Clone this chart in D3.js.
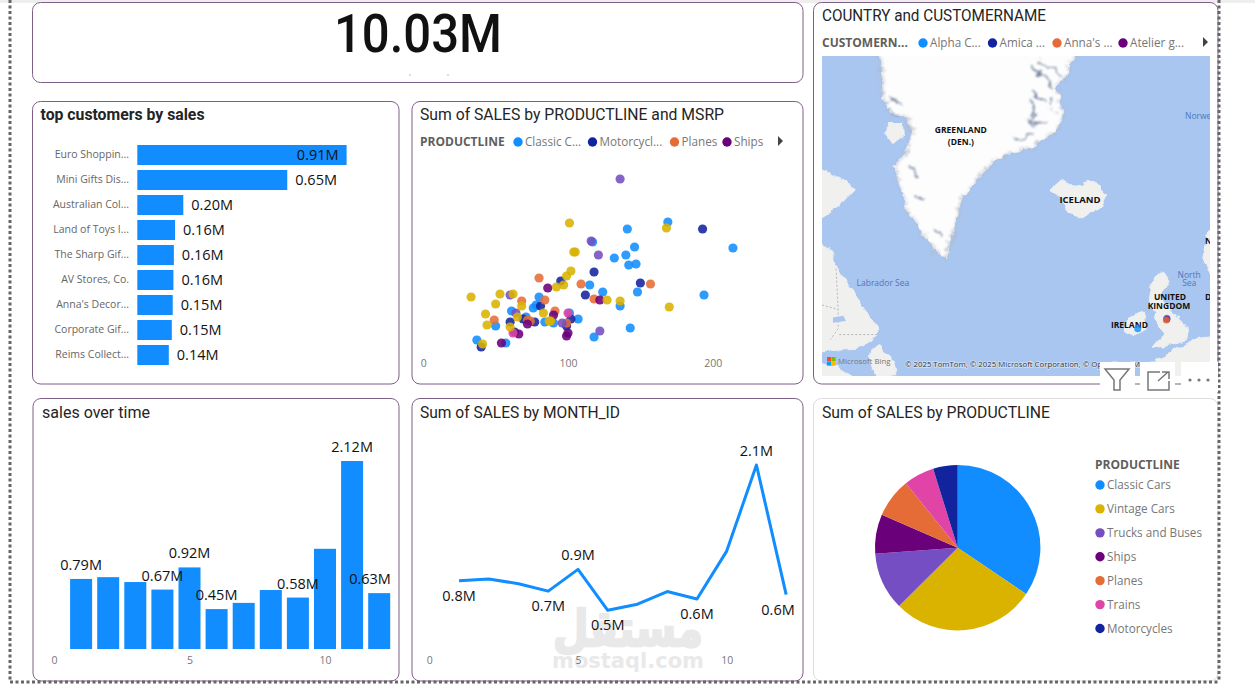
<!DOCTYPE html>
<html>
<head>
<meta charset="utf-8">
<title>Sales dashboard</title>
<script src="https://d3js.org/d3.v7.min.js"></script>
<style>
  html, body { margin: 0; padding: 0; background: white; overflow: hidden; }
  svg { display: block; }
  text { font-family: 'Open Sans', sans-serif; }
  .title { font-family: Roboto, sans-serif; fill: #252423; font-size: 16px; }
  .tick text { font-family: 'Open Sans', sans-serif; font-size: 10.5px; fill: #777; }
  .cat .tick text { font-size: 10.5px; fill: #666; }
  .dlabel { font-size: 14.5px; fill: #111; text-anchor: middle; }
  .legtitle { font-size: 12px; font-weight: bold; fill: #605e5c; }
  .legitem { font-size: 11.7px; fill: #777; }
  .maplabel { font-size: 8.5px; font-weight: bold; fill: #111; text-anchor: middle; }
  .sealabel { font-size: 8.5px; fill: #4c78bd; text-anchor: middle; }
</style>
</head>
<body>
<div id="chart"></div>
<script>
const totalSales = "10.03M";

// top customers
const customers = ["Euro Shoppin...", "Mini Gifts Dis...", "Australian Col...", "Land of Toys I...", "The Sharp Gif...", "AV Stores, Co.", "Anna's Decor...", "Corporate Gif...", "Reims Collect..."];
const customerSales = [0.91, 0.652, 0.20, 0.164, 0.159, 0.157, 0.154, 0.15, 0.137];

// sales by month, the two bottom charts share these
const months = [1, 2, 3, 4, 5, 6, 7, 8, 9, 10, 11, 12];
const monthSales = [0.79, 0.81, 0.755, 0.67, 0.92, 0.45, 0.52, 0.665, 0.58, 1.13, 2.12, 0.63];
const labelledMonths = [1, 4, 5, 6, 9, 11, 12];
const lineLabelsAbove = [5, 11];

// product lines
const productLines = ["Classic Cars", "Vintage Cars", "Trucks and Buses", "Ships", "Planes", "Trains", "Motorcycles"];
const productSales = [3.45, 2.81, 1.13, 0.77, 0.77, 0.60, 0.48];
const productColors = ["#118dff", "#d9b300", "#744ec2", "#6b007b", "#e66c37", "#e044a7", "#12239e"];

// scatter points: [MSRP, sales in thousands]
const classicPts = [[169,138],[141,131],[214,112],[146,113],[140,105],[132,102],[147,96],[142,95],[117,118],[115,75],[124,68],[148,68],[194,65],[136,54],[80,63],[76,52],[78,55],[61,49],[71,43],[50,34],[84,38],[90,37],[101,47],[107,41],[143,32],[118,23],[37,20],[57,17]];
const motorcyclePts = [[193,131],[118,88],[150,77],[112,65],[95,79],[81,54],[60,38],[69,41],[77,38],[102,41],[99,34],[63,28],[40,13]];
const planePts = [[80,82],[109,76],[157,76],[118,61],[84,60],[68,59],[49,40],[91,49],[74,39],[72,40],[99,37]];
const shipPts = [[86,72],[122,60],[90,45],[72,36],[100,27],[99,24],[66,26],[54,17]];
const trainPts = [[62,27],[100,47]];
const truckPts = [[136,181],[116,119],[121,105],[60,65],[64,47],[96,37],[122,29]];
const vintagePts = [[101,137],[168,132],[104,108],[105,108],[102,89],[99,84],[97,75],[92,73],[62,66],[53,66],[33,63],[50,56],[68,54],[43,46],[44,35],[65,43],[83,47],[60,33],[87,39],[88,39],[127,60],[136,59],[170,53],[41,16]];

// map outlines, lon/lat
const greenland = [[-58,76],[-57.5,74.4],[-56.9,73],[-57.1,72.1],[-55.5,71.2],[-52,70.8],[-51.3,69.9],[-52.3,68.7],[-55,67.6],[-53.6,66.3],[-52.3,64],[-49.8,62.5],[-46.2,60.2],[-44.6,59.8],[-43.7,62.2],[-41.8,65],[-38.8,66.6],[-33.8,68.5],[-32.5,68.4],[-27.3,69.1],[-23.2,70.3],[-22.3,70.9],[-22.5,71.7],[-23.6,72.7],[-20.9,73.8],[-20,74.5],[-20,76]];
const disko = [[-56,70.6],[-53,70.6],[-52.8,69.8],[-55,69.2],[-56.2,69.8]];
const iceland = [[-24.8,65.8],[-22.8,66.5],[-20.3,66.1],[-16.4,66.6],[-13.9,65.5],[-15.2,64.3],[-19,63.5],[-21.6,64.2],[-22.8,65.3]];
const britain = [[-4.9,57.8],[-3.2,58.6],[-1.9,57.5],[-3.5,55.9],[-1.3,54.2],[1.8,52.3],[1.5,51],[-5,49.9],[-2.8,51.6],[-4.4,53.2],[-5.7,55.5]];
const ireland = [[-10,53.6],[-6.8,54.2],[-6.1,52.2],[-8.7,51.4],[-10.3,52]];
const baffin = [[-72,68],[-64.5,66.5],[-62,65.9],[-65,64.6],[-68.6,63.6],[-72,64]];
const labrador = [[-72,62],[-66.7,60.5],[-66.7,59.7],[-63.2,56.8],[-60.3,54.5],[-57.7,52.2],[-58.4,51.2],[-62.3,49.8],[-68.6,49.6],[-72,49.6]];
const gaspe = [[-72,48.3],[-66,47.7],[-62,46],[-72,45]];
const newfoundland = [[-59,49.8],[-57.5,50.4],[-55.2,48.8],[-54.2,46.4],[-58.4,46.4],[-59.4,48.4]];
const europe = [[7,51.5],[4,51.3],[1.5,50.5],[-1.5,49.5],[-4.5,48.4],[-3,46],[7,45]];
const norway = [[7,63],[5.4,62],[4.6,60],[6,58.2],[7,58]];
const lake = [[-66.5,53.6],[-64.5,53.8],[-64,53.2],[-66.5,53]];
const fjords = [
  [[-28.6,74],[-26.1,73.4],[-24.2,72.8]],
  [[-27,74.2],[-24.5,73.9],[-22.5,73.4]],
  [[-28.2,72.5],[-25.6,71.7]],
  [[-28.6,72],[-27,71.2],[-29,70.6]],
  [[-29,70.6],[-25,70.6]],
  [[-24.5,72.2],[-24,71.3]],
  [[-31,69.4],[-28,69.9]],
  [[-55.5,72.2],[-53.2,71.6]],
  [[-56,71.6],[-54,71]],
  [[-51.5,67.6],[-50,67]],
  [[-50.5,65.5],[-49,65]],
  [[-47,62.5],[-45.5,61.6]]
];
const borders = [
  [[-65.9,58.8],[-65.5,54.5],[-65.5,52.3],[-67,51]],
  [[-68.6,55],[-65.5,54.5]],
  [[-65.3,51.6],[-57.6,51.6]]
];
const mapLabels = [["GREENLAND",-41.9,70.1],["(DEN.)",-41.9,69.3],["ICELAND",-19,65],["UNITED",-1.7,55.9],["KINGDOM",-1.9,54.9],["IRELAND",-9.5,52.7]];
const seaLabels = [["Labrador Sea",-56.9,57.3],["North",2,58.2],["Sea",2,57.3]];
const customerMarkers = [[-7.9,52.3,"#118dff"],[-2.3,53.5,"#118dff"],[-2.3,53.4,"#6b007b"],[-2.4,53.3,"#e66c37"]];

const purple = "#7f5f87";
const svg = d3.select("#chart").append("svg").attr("width", 1255).attr("height", 687);
const defs = svg.append("defs");

// rough coast for the base map
function roughFilter(id, scale, blur) {
  const f = defs.append("filter").attr("id", id).attr("x", "-10%").attr("y", "-10%").attr("width", "120%").attr("height", "120%")
    .attr("color-interpolation-filters", "sRGB");
  f.append("feTurbulence").attr("type", "fractalNoise").attr("baseFrequency", 0.1).attr("numOctaves", 3).attr("seed", 4).attr("result", "n");
  f.append("feDisplacementMap").attr("in", "SourceGraphic").attr("in2", "n").attr("scale", scale)
    .attr("xChannelSelector", "R").attr("yChannelSelector", "G").attr("result", "d");
  f.append("feGaussianBlur").attr("in", "d").attr("stdDeviation", blur);
}
roughFilter("rough", 7, 0.7);
roughFilter("ridge", 14, 0.9);
defs.append("clipPath").attr("id", "mapclip").append("rect").attr("x", 822).attr("y", 56).attr("width", 388).attr("height", 320);

svg.append("rect").attr("width", 1255).attr("height", 3).attr("fill", "#eeeeee");

function card(x0, y0, x1, y1, color) {
  svg.append("rect").attr("x", x0).attr("y", y0).attr("width", x1 - x0).attr("height", y1 - y0)
    .attr("rx", 8).attr("fill", "white").attr("stroke", color || purple).attr("stroke-width", 1);
}
function title(txt, x, y, w, bold) {
  svg.append("text").attr("class", "title").attr("x", x).attr("y", y).attr("dy", ".35em")
    .attr("textLength", w).attr("lengthAdjust", "spacingAndGlyphs")
    .style("font-weight", bold ? "bold" : null).text(txt);
}
function legendRow(label, lx, y, items) {
  svg.append("text").attr("class", "legtitle").attr("x", lx).attr("y", y).attr("dy", ".35em").text(label);
  items.forEach(d => {
    svg.append("circle").attr("cx", d[1]).attr("cy", y).attr("r", 4.7).attr("fill", d[2]);
    svg.append("text").attr("class", "legitem").attr("x", d[1] + 7).attr("y", y).attr("dy", ".35em").text(d[0]);
  });
}
function arrow(x, y) {
  svg.append("path").attr("d", d3.line()([[x, y - 5], [x + 5, y], [x, y + 5]])).attr("fill", "#444");
}
function hideDomain(g) {
  g.select(".domain").remove();
}

card(32.5, 2.5, 803, 82.5);
card(32.5, 101.5, 399, 384);
card(412, 101.5, 803, 384);
card(813.5, 2.5, 1218, 384);
card(33, 398.5, 399, 681);
card(412, 398.5, 803, 681);
card(813.5, 398.5, 1218, 681, "#dddddd");

// KPI
svg.append("text").attr("x", 418).attr("y", 52).attr("text-anchor", "middle")
  .attr("textLength", 168).attr("lengthAdjust", "spacingAndGlyphs")
  .style("font-family", "Roboto, sans-serif").style("font-size", "54px").style("font-weight", 500).attr("fill", "#111").text(totalSales);
svg.append("rect").attr("x", 409).attr("y", 74.5).attr("width", 2).attr("height", 1).attr("fill", "#bbb");
svg.append("rect").attr("x", 447).attr("y", 74.5).attr("width", 2).attr("height", 1).attr("fill", "#bbb");

// top customers
title("top customers by sales", 40.5, 114.5, 164, true);
const custX = d3.scaleLinear().domain([0, 1]).range([137.3, 367.3]);
const custY = d3.scaleBand().domain(customers).range([142.5, 367.5]).paddingInner(0.2).paddingOuter(0.1);
svg.append("g").attr("class", "cat").attr("transform", "translate(137,0)")
  .call(d3.axisLeft(custY).tickSize(0).tickPadding(8)).call(hideDomain);
svg.selectAll(".custbar").data(customers).enter().append("rect").attr("class", "custbar")
  .attr("x", custX(0)).attr("y", d => custY(d))
  .attr("width", (d, i) => custX(customerSales[i]) - custX(0)).attr("height", custY.bandwidth())
  .attr("fill", productColors[0]);
svg.selectAll(".custlabel").data(customers).enter().append("text").attr("class", "dlabel custlabel")
  .attr("x", (d, i) => customerSales[i] > 0.8 ? custX(customerSales[i]) - 8 : custX(customerSales[i]) + 8)
  .attr("y", d => custY(d) + custY.bandwidth() / 2).attr("dy", ".35em")
  .style("text-anchor", (d, i) => customerSales[i] > 0.8 ? "end" : "start")
  .text((d, i) => customerSales[i].toFixed(2) + "M");

// scatter
title("Sum of SALES by PRODUCTLINE and MSRP", 420, 114.5, 304);
legendRow("PRODUCTLINE", 420, 142, [["Classic C...", 518, productColors[0]], ["Motorcycl...", 592.5, productColors[6]], ["Planes", 674.5, productColors[4]], ["Ships", 727, productColors[3]]]);
arrow(778, 141);
const scatX = d3.scaleLinear().domain([0, 200]).range([423.3, 712.7]);
const scatY = d3.scaleLinear().domain([0, 200]).range([360, 160]);
svg.append("g").attr("transform", "translate(0,359.5)")
  .call(d3.axisBottom(scatX).tickValues([0, 100, 200]).tickSize(0).tickPadding(0)).call(hideDomain);
[[classicPts, 0], [motorcyclePts, 6], [planePts, 4], [shipPts, 3], [trainPts, 5], [truckPts, 2], [vintagePts, 1]].forEach(s => {
  svg.append("g").selectAll("circle").data(s[0]).enter().append("circle")
    .attr("cx", d => scatX(d[0])).attr("cy", d => scatY(d[1])).attr("r", 4.6)
    .attr("fill", productColors[s[1]]).attr("fill-opacity", 0.88);
});

// map
title("COUNTRY and CUSTOMERNAME", 822, 15.5, 224);
legendRow("CUSTOMERN...", 822, 43, [["Alpha C...", 923, productColors[0]], ["Amica ...", 992.5, productColors[6]], ["Anna's ...", 1057, productColors[4]], ["Atelier g...", 1123, productColors[3]]]);
arrow(1203, 42);
const proj = d3.geoMercator().scale(298).center([-19, 65]).translate([1080, 200]);
const coast = d3.line().curve(d3.curveLinearClosed);
const open = d3.line().curve(d3.curveBasis);
const mapG = svg.append("g").attr("clip-path", "url(#mapclip)");
mapG.append("rect").attr("x", 822).attr("y", 56).attr("width", 388).attr("height", 320).attr("fill", "#a9c6f0");
const landG = mapG.append("g").attr("filter", "url(#rough)");
[greenland, disko, iceland, britain, ireland, baffin, labrador, gaspe, newfoundland, europe, norway].forEach(shape => {
  const snow = shape === greenland;
  landG.append("path").attr("d", coast(shape.map(proj)))
    .attr("fill", snow ? "#fdfdfd" : "#f0f0ef")
    .attr("stroke", "#eeeff1").attr("stroke-width", 1);
});
// mountain shading along the ice edge
mapG.append("path").attr("d", coast(greenland.map(proj))).attr("fill", "none").attr("filter", "url(#ridge)")
  .attr("stroke", "#b4b8c2").attr("stroke-width", 4).attr("stroke-dasharray", "2 3").attr("stroke-opacity", 0.8);
const fjordG = mapG.append("g").attr("filter", "url(#ridge)");
fjords.forEach(f => {
  fjordG.append("path").attr("d", open(f.map(proj))).attr("fill", "none").attr("stroke", "#6f7f9c").attr("stroke-width", 1.8);
});
borders.forEach(b => {
  mapG.append("path").attr("d", d3.line()(b.map(proj))).attr("fill", "none").attr("stroke", "#a8a8a8").attr("stroke-width", 0.8).attr("stroke-dasharray", "2 2");
});
mapG.append("path").attr("d", coast(lake.map(proj))).attr("fill", "#a9c6f0");
mapLabels.forEach(d => {
  const p = proj([d[1], d[2]]);
  mapG.append("text").attr("class", "maplabel").attr("x", p[0]).attr("y", p[1]).attr("dy", ".35em")
    .style("font-size", d[0] === "ICELAND" ? "9.5px" : null).text(d[0]);
});
seaLabels.forEach(d => {
  const p = proj([d[1], d[2]]);
  mapG.append("text").attr("class", "sealabel").attr("x", p[0]).attr("y", p[1]).attr("dy", ".35em").text(d[0]);
});
mapG.append("text").attr("class", "sealabel").attr("x", 1185).attr("y", 116).attr("dy", ".35em").style("text-anchor", "start").text("Norwe");
mapG.append("text").attr("class", "maplabel").attr("x", 1205).attr("y", 241).attr("dy", ".35em").style("text-anchor", "start").text("N");
mapG.append("text").attr("class", "maplabel").attr("x", 1205).attr("y", 297).attr("dy", ".35em").style("text-anchor", "start").text("D");
customerMarkers.forEach(d => {
  const p = proj([d[0], d[1]]);
  mapG.append("circle").attr("cx", p[0]).attr("cy", p[1]).attr("r", 3.5).attr("fill", d[2]).attr("fill-opacity", 0.8);
});
mapG.append("text").attr("x", 905).attr("y", 364).attr("dy", ".35em").style("font-size", "7.8px").attr("fill", "#333")
  .attr("stroke", "white").attr("stroke-width", 1.5).attr("stroke-opacity", 0.5).attr("paint-order", "stroke")
  .text("© 2025 TomTom, © 2025 Microsoft Corporation, © OpenStreetMap Terms");
[["#f25022", 827, 357], ["#7fba00", 831.5, 357], ["#00a4ef", 827, 361.5], ["#ffb900", 831.5, 361.5]].forEach(d => {
  mapG.append("rect").attr("x", d[1]).attr("y", d[2]).attr("width", 4).attr("height", 4).attr("fill", d[0]);
});
mapG.append("text").attr("x", 838).attr("y", 361.5).attr("dy", ".35em").style("font-size", "7.8px").attr("fill", "#777").text("Microsoft Bing");

// sales over time
title("sales over time", 42, 412, 108);
const barX = d3.scaleLinear().domain([0, 10]).range([54, 325]);
const barY = d3.scaleLinear().domain([0, 2.12]).range([649, 461]);
svg.append("g").attr("transform", "translate(0,656.5)")
  .call(d3.axisBottom(barX).tickValues([0, 5, 10]).tickSize(0).tickPadding(0)).call(hideDomain);
svg.selectAll(".monthbar").data(months).enter().append("rect").attr("class", "monthbar")
  .attr("x", d => barX(d) - 11).attr("width", 22)
  .attr("y", (d, i) => barY(monthSales[i])).attr("height", (d, i) => barY(0) - barY(monthSales[i]))
  .attr("fill", productColors[0]);
svg.selectAll(".barlabel").data(labelledMonths).enter().append("text").attr("class", "dlabel barlabel")
  .attr("x", d => Math.min(barX(d), 370)).attr("y", d => barY(monthSales[d - 1]) - 14).attr("dy", ".35em")
  .text(d => monthSales[d - 1].toFixed(2) + "M");

// sales by month
title("Sum of SALES by MONTH_ID", 420, 412, 200);
// watermark sits under the line
svg.append("text").attr("x", 628).attr("y", 628).attr("dy", ".35em").attr("text-anchor", "middle")
  .attr("textLength", 150).attr("lengthAdjust", "spacingAndGlyphs")
  .style("font-family", "'DejaVu Sans'").style("font-size", "50px").style("font-weight", "bold")
  .attr("fill", "#e9e9e9").attr("stroke", "#e9e9e9").attr("stroke-width", 2.5).text("مستقل");
svg.append("text").attr("x", 628).attr("y", 661).attr("dy", ".35em").attr("text-anchor", "middle")
  .style("font-family", "'DejaVu Sans'").style("font-size", "21px").style("font-weight", "bold").attr("fill", "#e9e9e9").text("mostaql.com");
const lineX = d3.scaleLinear().domain([0, 10]).range([429.3, 726.7]);
const lineY = d3.scaleLinear().domain([0, 2.12]).range([649.4, 465]);
svg.append("g").attr("transform", "translate(0,656.5)")
  .call(d3.axisBottom(lineX).tickValues([0, 5, 10]).tickSize(0).tickPadding(0)).call(hideDomain);
svg.append("path").datum(months)
  .attr("d", d3.line().x(d => lineX(d)).y((d, i) => lineY(monthSales[i])))
  .attr("fill", "none").attr("stroke", productColors[0]).attr("stroke-width", 3).attr("stroke-linejoin", "round");
svg.selectAll(".linelabel").data(labelledMonths).enter().append("text").attr("class", "dlabel linelabel")
  .attr("x", d => Math.min(lineX(d), 778))
  .attr("y", d => lineY(monthSales[d - 1]) + (lineLabelsAbove.includes(d) ? -14 : 15)).attr("dy", ".35em")
  .text(d => monthSales[d - 1].toFixed(1) + "M");

// pie
title("Sum of SALES by PRODUCTLINE", 822, 412, 228);
const arc = d3.arc().innerRadius(0).outerRadius(82.7);
svg.append("g").attr("transform", "translate(957.7,547.7)").selectAll("path")
  .data(d3.pie().sort(null)(productSales)).enter().append("path")
  .attr("d", arc).attr("fill", (d, i) => productColors[i]);
svg.append("text").attr("class", "legtitle").attr("x", 1095).attr("y", 465).attr("dy", ".35em").text("PRODUCTLINE");
const legY = d3.scaleLinear().domain([0, 6]).range([485, 628.5]);
productLines.forEach((d, i) => {
  svg.append("circle").attr("cx", 1100).attr("cy", legY(i)).attr("r", 4.7).attr("fill", productColors[i]);
  svg.append("text").attr("class", "legitem").attr("x", 1107).attr("y", legY(i)).attr("dy", ".35em").text(d);
});

// focus frame of the selected visual
[[10, 0, 10, 682], [1219, 0, 1219, 682], [10, 682, 1219, 682]].forEach(d => {
  svg.append("line").attr("x1", d[0]).attr("y1", d[1]).attr("x2", d[2]).attr("y2", d[3])
    .attr("stroke", "#666").attr("stroke-width", 3).attr("stroke-dasharray", "3 2.5");
});

// visual header icons over the map, the border shows between them
[[1100, 35], [1140, 35], [1181, 37]].forEach(d => {
  svg.append("rect").attr("x", d[0]).attr("y", 362).attr("width", d[1]).attr("height", 30).attr("fill", "white");
});
svg.append("path").attr("d", "M1105 369H1129L1120 380V390H1114V380Z").attr("fill", "none").attr("stroke", "#777").attr("stroke-width", 1.5);
svg.append("path").attr("d", "M1148 380V390H1169V381M1148 380V372H1160M1158 381L1168 372M1162 372H1169V379").attr("fill", "none").attr("stroke", "#777").attr("stroke-width", 1.5);
[1190, 1199, 1208].forEach(x => svg.append("circle").attr("cx", x).attr("cy", 380).attr("r", 1.6).attr("fill", "#777"));
</script>
</body>
</html>
